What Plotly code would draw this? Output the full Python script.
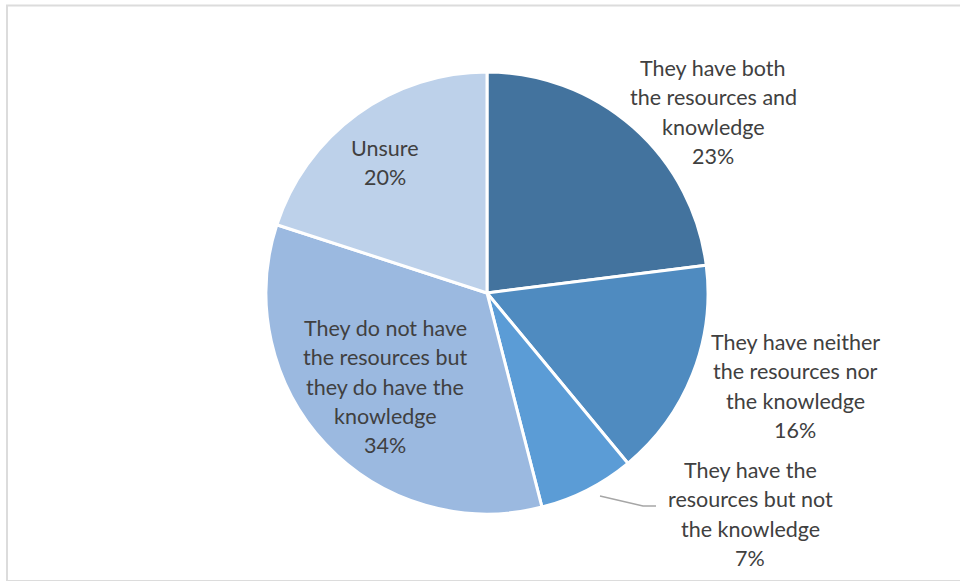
import plotly.graph_objects as go

# Survey responses: resources and knowledge
categories = [
    "They have both the resources and knowledge",
    "They have neither the resources nor the knowledge",
    "They have the resources but not the knowledge",
    "They do not have the resources but they do have the knowledge",
    "Unsure",
]
shares = [23, 16, 7, 34, 20]
colors = ["#43739E", "#4F8BC0", "#5B9CD6", "#9BB9E0", "#BDD1EA"]

# label lines for each slice (wrapped as displayed)
label_lines = [
    ["They have both", "the resources and", "knowledge"],
    ["They have neither", "the resources nor", "the knowledge"],
    ["They have the", "resources but not", "the knowledge"],
    ["They do not have", "the resources but", "they do have the", "knowledge"],
    ["Unsure"],
]
# label anchor (center x, first-line y) in pixels
label_anchor = [(713, 68), (795, 342), (750, 470), (385, 328), (385, 148)]

W, H = 960, 581
cx, cy, r = 487, 293, 221
line_gap = 29.3

fig = go.Figure(
    go.Pie(
        labels=categories,
        values=shares,
        marker=dict(colors=colors, line=dict(color="white", width=3)),
        sort=False,
        direction="clockwise",
        rotation=0,
        textinfo="none",
        hoverinfo="label+percent",
        showlegend=False,
        domain=dict(
            x=[(cx - r) / W, (cx + r) / W],
            y=[(H - cy - r) / H, (H - cy + r) / H],
        ),
    )
)

annotations = []
for lines, share, (ax, ay) in zip(label_lines, shares, label_anchor):
    for i, txt in enumerate(lines + [f"{share}%"]):
        y = ay + i * line_gap
        annotations.append(
            dict(
                x=ax / W, y=1 - y / H, xref="paper", yref="paper",
                text=txt, showarrow=False, xanchor="center", yanchor="middle",
                font=dict(family="Lato", size=21.5, color="#404040"),
            )
        )

shapes = [
    # chart-area frame
    dict(type="rect", xref="paper", yref="paper",
         x0=7 / W, x1=1.05, y0=1 - 581 / H, y1=1 - 5.5 / H,
         line=dict(color="#DCDCDC", width=2), fillcolor="rgba(0,0,0,0)"),
    # leader line for the small slice
    dict(type="path", xref="paper", yref="paper",
         path=f"M {600 / W},{1 - 496 / H} L {643 / W},{1 - 506 / H} L {656 / W},{1 - 506 / H}",
         line=dict(color="#A6A6A6", width=1.3)),
]

fig.update_layout(
    width=W, height=H,
    margin=dict(l=0, r=0, t=0, b=0),
    paper_bgcolor="white",
    plot_bgcolor="white",
    annotations=annotations,
    shapes=shapes,
)

fig.write_html("out.html")
